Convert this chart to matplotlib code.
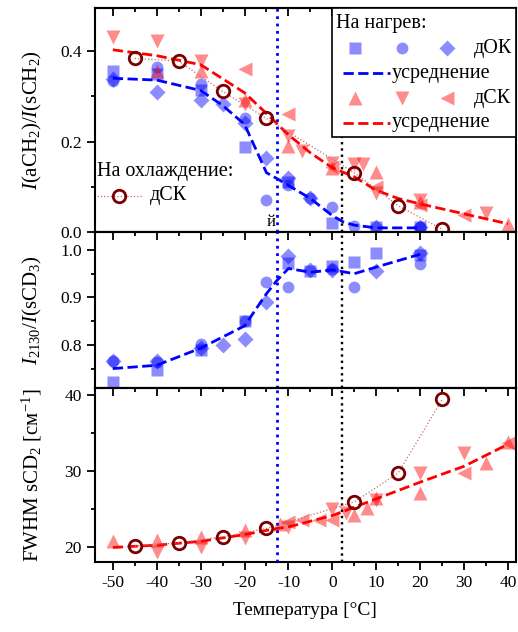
import numpy as np
import matplotlib
matplotlib.use("Agg")
import matplotlib.pyplot as plt
from matplotlib.patches import Rectangle
from matplotlib.ticker import MultipleLocator

plt.rcParams['font.family'] = ['Liberation Serif', 'DejaVu Serif']
plt.rcParams['mathtext.fontset'] = 'custom'
plt.rcParams['mathtext.rm'] = 'Liberation Serif'
plt.rcParams['mathtext.it'] = 'Liberation Serif:italic'
plt.rcParams['axes.unicode_minus'] = False

# ---- верхняя панель: I(aCH2)/I(sCH2), нагрев дОК ----
dok_sq_t = [-50, -40, -30, -20, -10, 0, 10, 20]
dok_sq_r = [0.356, 0.350, 0.315, 0.189, 0.110, 0.020, 0.010, 0.010]
dok_ci_t = [-50, -40, -30, -20, -15, -10, -5, 0, 5, 20]
dok_ci_r = [0.333, 0.364, 0.327, 0.251, 0.071, 0.104, 0.075, 0.056, 0.013, 0.011]
dok_di_t = [-50, -40, -30, -25, -20, -15, -10, -5, 10, 20]
dok_di_r = [0.338, 0.309, 0.293, 0.282, 0.242, 0.164, 0.120, 0.075, 0.011, 0.012]
dok_avg_t = [-50, -40, -30, -25, -20, -15, -12.6, -10, -5, 0, 2.5, 5, 10, 20]
dok_avg_r = [0.340, 0.336, 0.313, 0.280, 0.238, 0.131, 0.118, 0.103, 0.074, 0.036, 0.022, 0.015, 0.009, 0.009]

# нагрев дСК
dsk_up_t = [-40, -30, -20, -10, 0, 10, 20, 40]
dsk_up_r = [0.357, 0.356, 0.293, 0.190, 0.141, 0.133, 0.067, 0.018]
dsk_dn_t = [-50, -40, -30, -20, -10, -7, 0, 5, 7, 10, 20, 35]
dsk_dn_r = [0.431, 0.422, 0.378, 0.283, 0.213, 0.178, 0.153, 0.151, 0.151, 0.086, 0.071, 0.042]
dsk_lt_t = [-20, -10, 0, 10, 20, 30]
dsk_lt_r = [0.360, 0.260, 0.143, 0.100, 0.059, 0.038]
dsk_avg_t = [-50, -40, -30, -20, -15, -10, -5, 0, 5, 10, 15, 20, 30, 40]
dsk_avg_r = [0.403, 0.390, 0.370, 0.308, 0.262, 0.215, 0.175, 0.142, 0.122, 0.092, 0.074, 0.062, 0.040, 0.018]

# охлаждение дСК
cool_t = [-45, -35, -25, -15, 5, 15, 25]
cool_r = [0.384, 0.378, 0.311, 0.251, 0.131, 0.058, 0.006]

# ---- средняя панель: I2130/I(sCD3) ----
mid_sq_t = [-50, -40, -30, -20, -10, -5, 0, 5, 10, 20]
mid_sq_v = [0.722, 0.748, 0.790, 0.850, 0.972, 0.955, 0.966, 0.974, 0.993, 0.990]
mid_ci_t = [-50, -40, -30, -20, -15, -10, 0, 5, 20]
mid_ci_v = [0.765, 0.763, 0.801, 0.850, 0.932, 0.921, 0.960, 0.921, 0.971]
mid_di_t = [-50, -40, -30, -25, -20, -15, -10, -5, 0, 10, 20]
mid_di_v = [0.767, 0.765, 0.793, 0.800, 0.812, 0.891, 0.987, 0.957, 0.957, 0.955, 0.994]
mid_avg_t = [-50, -40, -30, -20, -15, -12.6, -10, -5, 0, 5, 10, 20]
mid_avg_v = [0.750, 0.757, 0.793, 0.840, 0.908, 0.936, 0.961, 0.953, 0.958, 0.950, 0.964, 0.991]

# ---- нижняя панель: FWHM sCD2 ----
fw_up_t = [-50, -40, -30, -20, -12, 5, 8, 10, 20, 35, 40]
fw_up_v = [20.7, 20.9, 21.3, 22.2, 23.0, 24.2, 25.1, 26.4, 27.1, 31.0, 33.8]
fw_dn_t = [-40, -30, -20, -10, 0, 3, 10, 20, 30]
fw_dn_v = [19.3, 20.0, 21.2, 22.6, 24.9, 24.4, 26.2, 29.7, 32.3]
fw_lt_t = [-10, -7, -3, 0, 30, 40]
fw_lt_v = [23.3, 23.5, 23.5, 23.5, 29.7, 33.6]
fw_avg_t = [-50, -40, -30, -20, -12.6, -10, 0, 10, 20, 30, 40]
fw_avg_v = [19.9, 20.2, 20.7, 21.6, 22.4, 22.6, 24.1, 26.3, 28.5, 30.6, 33.5]
fw_cool_v = [20.1, 20.5, 21.3, 22.4, 25.9, 29.7, 39.4]

t_blue_line = -12.6
t_black_line = 2.2

BLUE = '#0000ff'
RED = '#ff0000'
DARK = '#7a0000'
A = 0.45

fig = plt.figure(figsize=(5.18, 6.32), dpi=100)
ax1 = fig.add_axes([0.183, 0.633, 0.813, 0.354])
ax2 = fig.add_axes([0.183, 0.386, 0.813, 0.247], sharex=ax1)
ax3 = fig.add_axes([0.183, 0.111, 0.813, 0.275], sharex=ax1)


def heat_markers(ax, color, series, marks, size):
    for (x, y), m in zip(series, marks):
        ax.plot(x, y, ls='none', marker=m, ms=size, color=color, alpha=A, mec='none', zorder=2)


def cooling(ax, x, y):
    ax.plot(x, y, ls=':', lw=0.9, color='#c07070', marker='o', ms=9, mfc='none',
            mec=DARK, mew=2, zorder=5)


# верхняя
heat_markers(ax1, BLUE, [(dok_sq_t, dok_sq_r), (dok_ci_t, dok_ci_r), (dok_di_t, dok_di_r)],
             ['s', 'o', 'D'], 8.5)
heat_markers(ax1, RED, [(dsk_up_t, dsk_up_r), (dsk_dn_t, dsk_dn_r), (dsk_lt_t, dsk_lt_r)],
             ['^', 'v', '<'], 10)
ax1.plot(dok_avg_t, dok_avg_r, ls='--', lw=2, color=BLUE, zorder=3)
ax1.plot(dsk_avg_t, dsk_avg_r, ls='--', lw=2, color=RED, zorder=3)
cooling(ax1, cool_t, cool_r)
ax1.text(-14.0, 0.022, 'й', ha='center', va='center', fontsize=12)

# средняя
heat_markers(ax2, BLUE, [(mid_sq_t, mid_sq_v), (mid_ci_t, mid_ci_v), (mid_di_t, mid_di_v)],
             ['s', 'o', 'D'], 8.5)
ax2.plot(mid_avg_t, mid_avg_v, ls='--', lw=2, color=BLUE, zorder=3)

# нижняя
heat_markers(ax3, RED, [(fw_up_t, fw_up_v), (fw_dn_t, fw_dn_v), (fw_lt_t, fw_lt_v)],
             ['^', 'v', '<'], 10)
ax3.plot(fw_avg_t, fw_avg_v, ls='--', lw=2, color=RED, zorder=3)
cooling(ax3, cool_t, fw_cool_v)

for ax in (ax1, ax2, ax3):
    ax.axvline(t_blue_line, color=BLUE, ls=':', lw=2, zorder=4)
    ax.axvline(t_black_line, color='black', ls=':', lw=1.7, zorder=4)
    for s in ax.spines.values():
        s.set_linewidth(1.5)
    ax.xaxis.set_major_locator(MultipleLocator(10))
    ax.xaxis.set_minor_locator(MultipleLocator(5))
    ax.tick_params(which='both', direction='out', width=1.3, labelsize=12.5, right=False)
    ax.tick_params(which='major', length=6)
    ax.tick_params(which='minor', length=3)
    sec = ax.secondary_xaxis('top')
    sec.xaxis.set_major_locator(MultipleLocator(10))
    sec.xaxis.set_minor_locator(MultipleLocator(5))
    sec.tick_params(which='both', direction='in', width=1.3, labeltop=False)
    sec.tick_params(which='major', length=6)
    sec.tick_params(which='minor', length=3)
    sec.spines['top'].set_linewidth(1.5)
    ax.yaxis.set_label_coords(-0.12, 0.5)

ax1.set_xlim(-54.1, 41.8)
ax1.set_ylim(0, 0.495)
ax1.yaxis.set_major_locator(MultipleLocator(0.2))
ax1.yaxis.set_minor_locator(MultipleLocator(0.1))
ax1.yaxis.set_major_formatter(matplotlib.ticker.FormatStrFormatter('%.1f'))
ax2.set_ylim(0.709, 1.038)
ax2.yaxis.set_major_locator(MultipleLocator(0.1))
ax2.yaxis.set_minor_locator(MultipleLocator(0.05))
ax2.yaxis.set_major_formatter(matplotlib.ticker.FormatStrFormatter('%.1f'))
ax3.set_ylim(18.0, 40.9)
ax3.yaxis.set_major_locator(MultipleLocator(10))
ax3.yaxis.set_minor_locator(MultipleLocator(5))
ax1.tick_params(labelbottom=False)
ax2.tick_params(labelbottom=False)

ax1.set_ylabel(r'$I$(aCH$_2$)/$I$(sCH$_2$)', fontsize=15)
ax2.set_ylabel(r'$I_{2130}$/$I$(sCD$_3$)', fontsize=15)
ax3.set_ylabel('FWHM sCD$_2$ [см$^{-1}$]', fontsize=15)
ax3.set_xlabel('Температура [°C]', fontsize=14, labelpad=8)

# легенда "На нагрев"
tr = ax1.transAxes
ax1.add_patch(Rectangle((0.563, 0.424), 0.437, 0.576, transform=tr, fc='white',
                        ec='black', lw=1.2, zorder=8, clip_on=False))
ax1.text(0.572, 0.933, 'На нагрев:', transform=tr, fontsize=14.5, va='center', zorder=9)
for m, xm in zip(['s', 'o', 'D'], [0.618, 0.729, 0.836]):
    ax1.plot([xm], [0.821], transform=tr, ls='none', marker=m, ms=8.5, color=BLUE,
             alpha=A, mec='none', zorder=9, clip_on=False)
for m, xm in zip(['^', 'v', '<'], [0.618, 0.729, 0.836]):
    ax1.plot([xm], [0.598], transform=tr, ls='none', marker=m, ms=10, color=RED,
             alpha=A, mec='none', zorder=9, clip_on=False)
ax1.text(0.900, 0.821, 'дОК', transform=tr, fontsize=14.5, va='center', zorder=9)
ax1.text(0.900, 0.598, 'дСК', transform=tr, fontsize=14.5, va='center', zorder=9)
for yl, c in [(0.71, BLUE), (0.487, RED)]:
    ax1.plot([0.589, 0.701], [yl, yl], transform=tr, ls='--', lw=2, color=c, zorder=9,
             clip_on=False)
    ax1.text(0.705, yl, 'усреднение', transform=tr, fontsize=14.5, va='center', zorder=9)

# легенда "На охлаждение"
ax1.text(0.005, 0.268, 'На охлаждение:', transform=tr, fontsize=14.5, va='center', zorder=9)
ax1.plot([0.005, 0.112], [0.161, 0.161], transform=tr, ls=':', lw=0.9, color='#c07070',
         zorder=9)
ax1.plot([0.057], [0.161], transform=tr, ls='none', marker='o', ms=9, mfc='none',
         mec=DARK, mew=2, zorder=9)
ax1.text(0.131, 0.161, 'дСК', transform=tr, fontsize=14.5, va='center', zorder=9)

fig.savefig('out.png', dpi=100)
